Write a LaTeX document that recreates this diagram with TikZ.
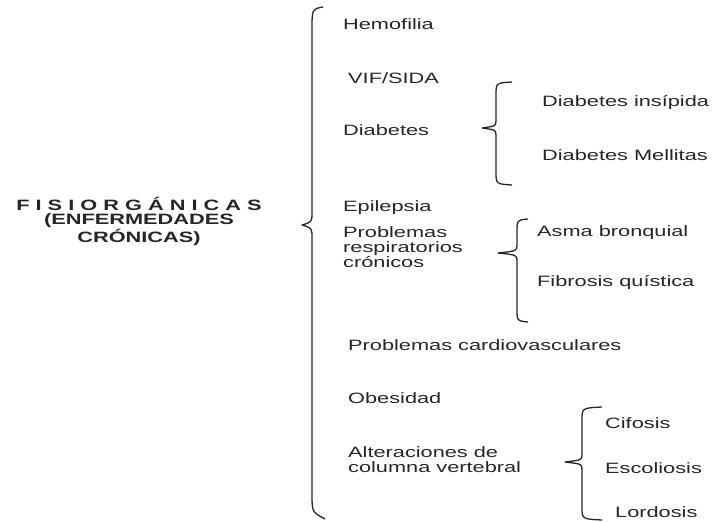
\documentclass[tikz,border=0pt]{standalone}
\usepackage{fontspec}
\setmainfont[FakeStretch=1.45]{Liberation Sans}
\usepackage{tikz}
\usetikzlibrary{positioning}

\begin{document}
\begin{tikzpicture}[
    x=1pt, y=-1pt,
    font=\fontsize{15}{15}\selectfont,
    item/.style={anchor=west, inner sep=0pt, align=left, text=black!85},
    head/.style={inner sep=0pt, align=center, font=\fontsize{15}{14.5}\selectfont\bfseries, text=black!85},
    curly/.style={draw=black!85, line width=1.3pt, line join=round}
  ]
    \useasboundingbox (0,0) rectangle (713,522);
    % main label
    \node[head] (FIS) at (139,221) {F I S I O R G Á N I C A S\\(ENFERMEDADES\\CRÓNICAS)};
    % first level
    \node[item] (HEM) at (343,24)  {Hemofilia};
    \node[item] (VIF) at (348,78)  {VIF/SIDA};
    \node[item] (DIA) at (343,130) {Diabetes};
    \node[item] (EPI) at (343,208) {Epilepsia};
    \node[item] (RES) at (343,247) {Problemas\\respiratorios\\crónicos};
    \node[item] (CAR) at (348,345) {Problemas cardiovasculares};
    \node[item] (OBE) at (348,398) {Obesidad};
    \node[item] (COL) at (348,460) {Alteraciones de\\columna vertebral};
    % second level
    \node[item] (DI1) at (542,103) {Diabetes insípida};
    \node[item] (DI2) at (542,155) {Diabetes Mellitas};
    \node[item] (ASM) at (537,233) {Asma bronquial};
    \node[item] (FIB) at (537,283) {Fibrosis quística};
    \node[item] (CIF) at (605,423) {Cifosis};
    \node[item] (ESC) at (605,468) {Escoliosis};
    \node[item] (LOR) at (615,512) {Lordosis};
    % braces
    \draw[curly] (323,7) .. controls (312,9) .. (312,30) -- (312,212)
      .. controls (312,222) .. (302,225) .. controls (312,228) .. (312,238)
      -- (312,494) .. controls (312,512) .. (325,519);
    \draw[curly] (512,82) .. controls (496,83) .. (496,95) -- (496,120)
      .. controls (496,126) .. (482,128) .. controls (496,130) .. (496,136)
      -- (496,172) .. controls (496,184) .. (512,185);
    \draw[curly] (528,219) .. controls (517,220) .. (517,232) -- (517,245)
      .. controls (517,251) .. (498,253) .. controls (517,255) .. (517,261)
      -- (517,309) .. controls (517,321) .. (528,322);
    \draw[curly] (602,407) .. controls (582,408) .. (582,420) -- (582,454)
      .. controls (582,460) .. (565,462) .. controls (582,464) .. (582,470)
      -- (582,507) .. controls (582,519) .. (602,520);
\end{tikzpicture}
\end{document}
